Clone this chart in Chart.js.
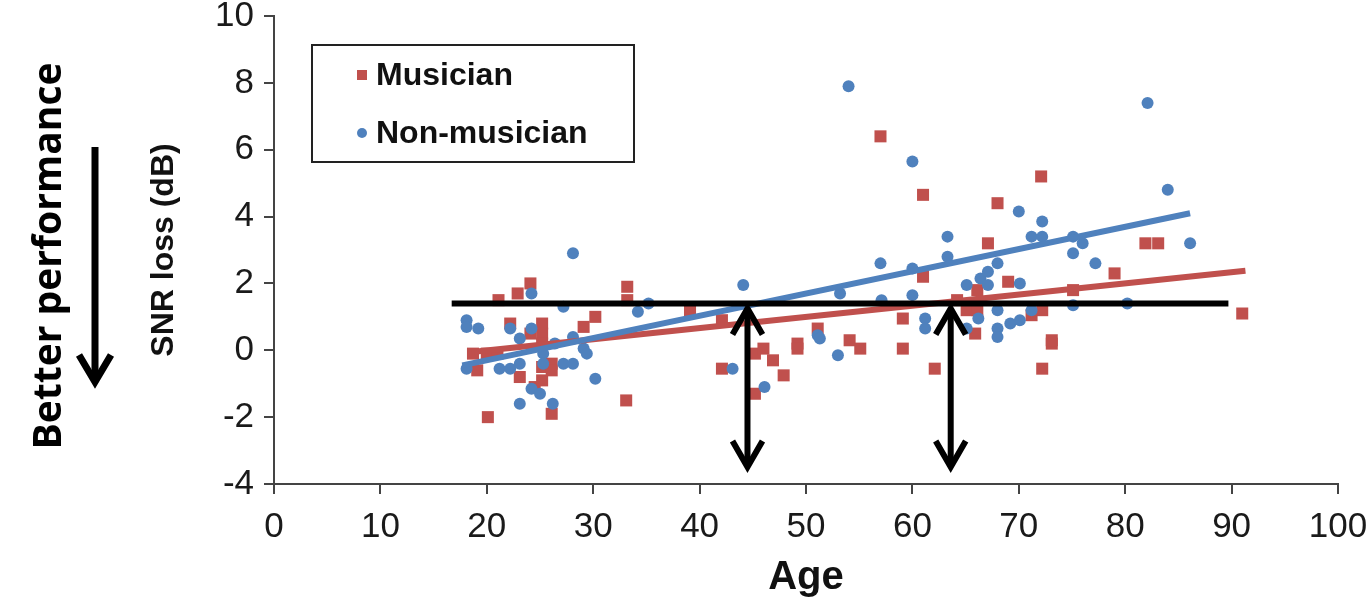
<!DOCTYPE html>
<html>
<head>
<meta charset="utf-8">
<script src="https://cdn.jsdelivr.net/npm/chart.js@4.4.0/dist/chart.umd.min.js"></script>
<style>
  body { margin: 0; background: #fff; }
  #myChart { display: block; }
</style>
</head>
<body>
<canvas id="myChart" width="1372" height="600"></canvas>
<script>
const ctx = document.getElementById('myChart').getContext("2d");

// Musician: age, SNR loss (dB)
const musicianAge = [18.7, 20, 21, 19.1, 20.1, 21.1, 22.9, 24.1, 22.2, 23.1, 24.1, 24.5, 25.2, 25.2, 25.2, 25.2, 25.2, 26.1, 26.1, 26.1,
  29.1, 30.2, 33.2, 33.2, 33.1, 39.1, 42.1, 42.1, 45.2, 46, 46.9, 47.9, 45.2, 49.2, 49.2, 51.1, 54.1, 55.1, 57, 59.1,
  59.1, 61, 61, 62.1, 64.2, 65.1, 66.1, 65.9, 66.1, 67.1, 68, 69, 71.2, 72.2, 72.1, 72.2, 73.1, 73.1, 75.1, 79,
  81.9, 83.1, 91];
const musicianLoss = [-0.1, -0.1, -0.1, -0.6, -2.0, 1.5, 1.7, 2.0, 0.8, -0.8, 0.5, -1.1, 0.8, 0.5, 0.2, -0.5, -0.9, -0.4, -0.6, -1.9,
  0.7, 1.0, 1.9, 1.5, -1.5, 1.2, 0.9, -0.55, -0.1, 0.05, -0.3, -0.75, -1.3, 0.2, 0.05, 0.65, 0.3, 0.05, 6.4, 0.95,
  0.05, 4.65, 2.2, -0.55, 1.5, 1.2, 1.2, 0.5, 1.8, 3.2, 4.4, 2.05, 1.05, 1.2, 5.2, -0.55, 0.2, 0.3, 1.8, 2.3,
  3.2, 3.2, 1.1];

// Non-musician: age, SNR loss (dB)
const nonMusicianAge = [18.1, 18.1, 19.2, 18.1, 21.2, 22.2, 22.2, 23.1, 23.1, 23.1, 24.2, 24.2, 24.2, 25, 25.3, 25.3, 26.2, 26.4, 27.2, 27.2,
  28.1, 28.1, 28.1, 29.1, 29.4, 30.2, 34.2, 35.2, 43.1, 44.1, 46.1, 51.1, 51.3, 53, 53.2, 54, 57, 57.1, 60, 60,
  60, 61.2, 61.2, 63.3, 63.3, 65.1, 65.1, 66.2, 66.4, 67.1, 67.1, 68, 68, 68, 68, 69.2, 70.1, 70, 70.1, 71.2,
  71.2, 72.2, 72.2, 75.1, 75.1, 75.1, 76, 77.2, 80.2, 82.1, 84, 86.1];
const nonMusicianLoss = [0.9, 0.7, 0.65, -0.55, -0.55, -0.55, 0.65, 0.35, -0.4, -1.6, 1.7, 0.65, -1.15, -1.3, -0.1, -0.4, -1.6, 0.2, 1.3, -0.4,
  -0.4, 0.4, 2.9, 0.05, -0.1, -0.85, 1.15, 1.4, -0.55, 1.95, -1.1, 0.45, 0.35, -0.15, 1.7, 7.9, 2.6, 1.5, 5.65, 2.45,
  1.65, 0.95, 0.65, 3.4, 2.8, 1.95, 0.65, 0.95, 2.15, 2.35, 1.95, 2.6, 1.2, 0.65, 0.4, 0.8, 0.9, 4.15, 2.0, 1.2,
  3.4, 3.4, 3.85, 3.4, 2.9, 1.35, 3.2, 2.6, 1.4, 7.4, 4.8, 3.2];

// trend lines (end points)
const musicianTrendAge = [18.6, 91.3];
const musicianTrendLoss = [-0.05, 2.38];
const nonMusicianTrendAge = [17.7, 86.1];
const nonMusicianTrendLoss = [-0.45, 4.1];

// black reference line and the two double arrows
const refLineAge = [16.7, 89.7];
const refLineLoss = 1.4;
const arrowAges = [44.5, 63.6];
const arrowBottomLoss = -3.55;

const xTicks = [0, 10, 20, 30, 40, 50, 60, 70, 80, 90, 100];
const yTicks = [-4, -2, 0, 2, 4, 6, 8, 10];

const RED = "#C0504D";
const BLUE = "#4F81BD";

const toPoints = (xs, ys) => xs.map((x, i) => ({ x: x, y: Array.isArray(ys) ? ys[i] : ys }));

// arrows + legend box + side label
const annotations = {
  id: 'annotations',
  afterDatasetsDraw(chart) {
    const c = chart.ctx;
    const xs = chart.scales.x, ys = chart.scales.y;
    const area = chart.chartArea;

    c.save();
    c.strokeStyle = "#000";
    c.lineWidth = 6;
    c.lineJoin = "miter";
    arrowAges.forEach(age => {
      const x = xs.getPixelForValue(age);
      const top = ys.getPixelForValue(refLineLoss) + 3;
      const bot = ys.getPixelForValue(arrowBottomLoss);
      c.beginPath();
      c.moveTo(x, top + 2);
      c.lineTo(x, bot - 2);
      c.stroke();
      c.beginPath();
      c.moveTo(x - 15, top + 28);
      c.lineTo(x, top + 2);
      c.lineTo(x + 15, top + 28);
      c.stroke();
      c.beginPath();
      c.moveTo(x - 15, bot - 28);
      c.lineTo(x, bot - 2);
      c.lineTo(x + 15, bot - 28);
      c.stroke();
    });
    c.restore();

    // legend box
    const lx = area.left + 38, ly = area.top + 29, lw = 322, lh = 117;
    c.save();
    c.strokeStyle = "#222";
    c.lineWidth = 2;
    c.strokeRect(lx, ly, lw, lh);
    c.font = "bold 32px 'Liberation Sans', Arial, sans-serif";
    c.fillStyle = "#111";
    c.textBaseline = "middle";
    const sets = chart.data.datasets.filter(d => d.legend);
    sets.forEach((d, i) => {
      const cy = ly + 30 + i * 58;
      c.fillStyle = d.backgroundColor;
      if (d.pointStyle === 'rect') {
        c.fillRect(lx + 45, cy - 5, 10, 10);
      } else {
        c.beginPath();
        c.arc(lx + 50, cy, 5, 0, Math.PI * 2);
        c.fill();
      }
      c.fillStyle = "#111";
      c.fillText(d.label, lx + 64, cy + 1);
    });
    c.restore();
  },
  afterDraw(chart) {
    const c = chart.ctx;
    c.save();
    // "Better performance" side label
    c.translate(50, 256);
    c.rotate(-Math.PI / 2);
    c.font = "bold 39px 'Open Sans', 'Liberation Sans', sans-serif";
    c.fillStyle = "#000";
    c.textAlign = "center";
    c.textBaseline = "middle";
    c.fillText("Better performance", 0, 0);
    c.restore();

    c.save();
    c.strokeStyle = "#000";
    c.lineWidth = 7;
    c.beginPath();
    c.moveTo(95, 147);
    c.lineTo(95, 381);
    c.stroke();
    c.beginPath();
    c.moveTo(79, 355);
    c.lineTo(95, 382);
    c.lineTo(111, 355);
    c.stroke();
    c.restore();
  }
};

const data = {
  datasets: [
    {
      type: 'line',
      label: "reference",
      data: toPoints(refLineAge, refLineLoss),
      borderColor: "#000",
      borderWidth: 6,
      pointRadius: 0,
      order: 0,
    },
    {
      type: 'line',
      label: "Non-musician trend",
      data: toPoints(nonMusicianTrendAge, nonMusicianTrendLoss),
      borderColor: BLUE,
      borderWidth: 6,
      pointRadius: 0,
      order: 1,
    },
    {
      type: 'line',
      label: "Musician trend",
      data: toPoints(musicianTrendAge, musicianTrendLoss),
      borderColor: RED,
      borderWidth: 6,
      pointRadius: 0,
      order: 2,
    },
    {
      label: "Musician",
      legend: true,
      data: toPoints(musicianAge, musicianLoss),
      pointStyle: 'rect',
      pointRadius: 8.5,
      backgroundColor: RED,
      borderColor: RED,
      borderWidth: 0,
      order: 4,
    },
    {
      label: "Non-musician",
      legend: true,
      data: toPoints(nonMusicianAge, nonMusicianLoss),
      pointStyle: 'circle',
      pointRadius: 6,
      backgroundColor: BLUE,
      borderColor: BLUE,
      borderWidth: 0,
      order: 3,
    },
  ],
};

const tickFont = { family: "'Liberation Sans', Arial, sans-serif", size: 35 };

const config = {
  type: 'scatter',
  data: data,
  plugins: [annotations],
  options: {
    responsive: false,
    animation: false,
    devicePixelRatio: 1,
    layout: {
      padding: { left: 145, top: 16, right: 34, bottom: 0 },
    },
    plugins: {
      legend: { display: false },
      tooltip: { enabled: false },
    },
    scales: {
      x: {
        type: 'linear',
        min: 0,
        max: 100,
        afterBuildTicks: (scale) => { scale.ticks = xTicks.map(v => ({ value: v })); },
        afterFit: (scale) => {
          scale.height = 116;
          scale.paddingLeft = 0;
          scale.paddingRight = 0;
        },
        ticks: { font: tickFont, color: "#1a1a1a", padding: 12, maxRotation: 0 },
        grid: { drawOnChartArea: false, tickLength: 10, color: "#444", lineWidth: 2 },
        border: { color: "#444", width: 2 },
        title: {
          display: true,
          text: "Age",
          color: "#111",
          font: { family: "'Liberation Sans', Arial, sans-serif", size: 40, weight: 'bold' },
          padding: { top: 0, bottom: -2 },
        },
      },
      y: {
        type: 'linear',
        min: -4,
        max: 10,
        afterBuildTicks: (scale) => { scale.ticks = yTicks.map(v => ({ value: v })); },
        afterFit: (scale) => {
          scale.width = 129;
          scale.paddingTop = 0;
          scale.paddingBottom = 0;
        },
        ticks: { font: tickFont, color: "#1a1a1a", padding: 10 },
        grid: { drawOnChartArea: false, tickLength: 10, color: "#444", lineWidth: 2 },
        border: { color: "#444", width: 2 },
        title: {
          display: true,
          text: "SNR loss (dB)",
          color: "#111",
          font: { family: "'Liberation Sans', Arial, sans-serif", size: 32, weight: 'bold' },
          padding: { top: 0, bottom: 0 },
        },
      },
    },
  },
};

const myChart = new Chart(ctx, config);
</script>
</body>
</html>
